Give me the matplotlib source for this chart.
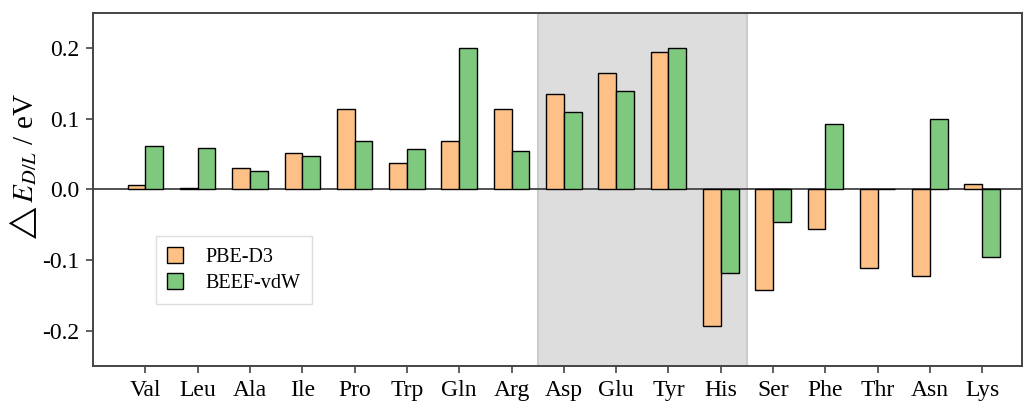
import numpy as np
import matplotlib.pyplot as plt

plt.rcParams['font.family'] = ['Liberation Serif', 'DejaVu Serif']
plt.rcParams['mathtext.fontset'] = 'stix'

residues = ["Val", "Leu", "Ala", "Ile", "Pro", "Trp", "Gln", "Arg", "Asp",
            "Glu", "Tyr", "His", "Ser", "Phe", "Thr", "Asn", "Lys"]
pbe_d3 = [0.006, 0.002, 0.030, 0.052, 0.114, 0.037, 0.068, 0.114, 0.135,
          0.165, 0.194, -0.194, -0.142, -0.056, -0.111, -0.123, 0.008]
beef_vdw = [0.061, 0.059, 0.026, 0.048, 0.068, 0.057, 0.200, 0.054, 0.110,
            0.140, 0.200, -0.119, -0.046, 0.092, 0.001, 0.100, -0.096]

x = np.arange(len(residues))
w = 0.34

fig = plt.figure(figsize=(10.23, 4.03), dpi=100)
ax = fig.add_axes([0.091, 0.092, 0.908, 0.876])

ax.axvspan(7.5, 11.5, facecolor="#dddddd", edgecolor="#cccccc", lw=1.5, zorder=0)
ax.axhline(0, color="#444444", lw=1.3, zorder=1)

ax.bar(x - w / 2, pbe_d3, w, color="#fdc086", edgecolor="black", lw=1,
       label="PBE-D3", zorder=2)
ax.bar(x + w / 2, beef_vdw, w, color="#7fc97f", edgecolor="black", lw=1,
       label="BEEF-vdW", zorder=2)

ax.set_xlim(-1.0, 16.76)
ax.set_ylim(-0.25, 0.25)
ax.set_xticks(x)
ax.set_xticklabels(residues)
ax.set_yticks([-0.2, -0.1, 0.0, 0.1, 0.2])
ax.set_yticklabels(["-0.2", "-0.1", "0.0", "0.1", "0.2"])
ax.tick_params(labelsize=17, length=5, width=1.2, color="#444444", pad=5)
ax.set_ylabel(r"$\triangle E_{D/L}$ / eV", fontsize=21, labelpad=4)
ax.yaxis.set_label_coords(-0.058, 0.56)
for s in ax.spines.values():
    s.set_color("#444444")
    s.set_linewidth(1.4)

leg = ax.legend(loc="upper left", bbox_to_anchor=(0.068, 0.367), fontsize=14.5,
                fancybox=False, handlelength=0.8, handleheight=0.8,
                handletextpad=1.1, borderpad=0.55, borderaxespad=0,
                labelspacing=0.3, framealpha=1)
leg.get_frame().set_edgecolor("#dddddd")
leg.set_zorder(5)

fig.savefig("out.png", dpi=100)
